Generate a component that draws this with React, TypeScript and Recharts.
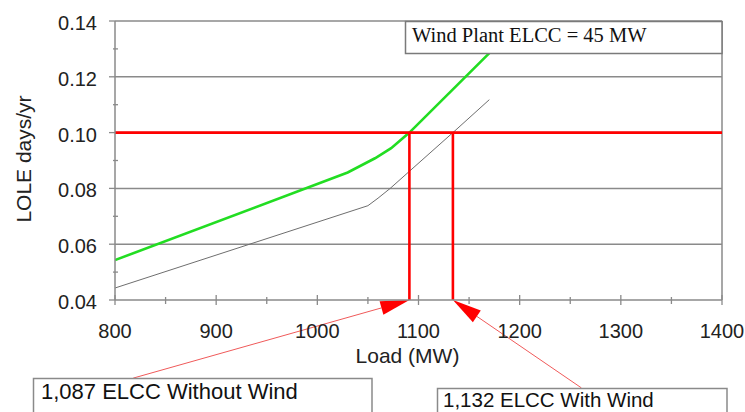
import React from 'react';
import { LineChart, Line, XAxis, YAxis, ReferenceLine } from 'recharts';

// ---- data ----
const LOAD_WITHOUT_WIND = [800, 1030, 1057, 1073, 1091, 1170];
const LOLE_WITHOUT_WIND = [0.0543, 0.0857, 0.0908, 0.0944, 0.1, 0.1285];
const LOAD_WITH_WIND = [800, 1050, 1060, 1072, 1134, 1170];
const LOLE_WITH_WIND = [0.0443, 0.0738, 0.0765, 0.08, 0.1, 0.1118];

const LOLE_TARGET = 0.1;
const ELCC_WITHOUT_WIND = 1091; // drawn position of the 1,087 marker
const ELCC_WITH_WIND = 1134; // drawn position of the 1,132 marker

const X_TICKS = [800, 850, 900, 950, 1000, 1050, 1100, 1150, 1200, 1250, 1300, 1350, 1400];
const X_LABEL_TICKS = [800, 900, 1000, 1100, 1200, 1300, 1400];
const Y_TICKS = [0.04, 0.05, 0.06, 0.07, 0.08, 0.09, 0.1, 0.11, 0.12, 0.13, 0.14];
const Y_LABEL_TICKS = [0.04, 0.06, 0.08, 0.1, 0.12, 0.14];
const Y_GRID = [0.06, 0.08, 0.1, 0.12, 0.14];

// annotation callout anchors (data coordinates: load, LOLE)
const CALLOUT_WITHOUT_FROM = [818, 0.012];
const CALLOUT_WITH_FROM = [1261, 0.0085];

const TITLE_BOX = 'Wind Plant ELCC = 45 MW';
const LABEL_WITHOUT = '1,087 ELCC Without Wind';
const LABEL_WITH = '1,132 ELCC With Wind';
const X_TITLE = 'Load (MW)';
const Y_TITLE = 'LOLE days/yr';

const withoutWind = LOAD_WITHOUT_WIND.map((x, i) => ({ x, y: LOLE_WITHOUT_WIND[i] }));
const withWind = LOAD_WITH_WIND.map((x, i) => ({ x, y: LOLE_WITH_WIND[i] }));

const SANS = '"Liberation Sans", Arial, sans-serif';
const SERIF = '"Liberation Serif", "Times New Roman", serif';
const GRID = '#8a8a8a';

const isIn = (arr: number[], v: number) => arr.some((a) => Math.abs(a - v) < 1e-6);

const XTick = (props: any) => {
  const { x, y, payload } = props;
  const major = isIn(X_LABEL_TICKS, payload.value);
  return (
    <g>
      <line x1={x} x2={x} y1={major ? y - 5 : y - 3} y2={major ? y + 5 : y + 4} stroke={GRID} strokeWidth={1.3} />
      {major && (
        <text x={x} y={y + 38} textAnchor="middle" fontFamily={SANS} fontSize={20} fill="#222">
          {payload.value}
        </text>
      )}
    </g>
  );
};

const YTick = (props: any) => {
  const { x, y, payload } = props;
  const major = isIn(Y_LABEL_TICKS, payload.value);
  return (
    <g>
      <line x1={major ? x - 6 : x - 2} x2={major ? x : x + 3} y1={y} y2={y} stroke={GRID} strokeWidth={1.3} />
      {major && (
        <text x={x - 18} y={y + 9} textAnchor="end" fontFamily={SANS} fontSize={20} fill="#222">
          {Number(payload.value).toFixed(2)}
        </text>
      )}
    </g>
  );
};

const makeArrow = (props: any) => {
  const { x1, y1, x2, y2 } = props;
  const dx = x2 - x1;
  const dy = y2 - y1;
  const len = Math.sqrt(dx * dx + dy * dy) || 1;
  const ux = dx / len;
  const uy = dy / len;
  const bx = x2 - ux * 29;
  const by = y2 - uy * 29;
  const px = -uy * 7;
  const py = ux * 7;
  return (
    <g>
      <line x1={x1} y1={y1} x2={bx} y2={by} stroke="#f05a5a" strokeWidth={1} />
      <polygon points={`${x2},${y2} ${bx + px},${by + py} ${bx - px},${by - py}`} fill="#ff0000" />
    </g>
  );
};

export default function App() {
  return (
    <div style={{ position: 'absolute', left: 0, top: 0, width: 745, height: 412, background: '#fff' }}>
      <LineChart width={745} height={412} margin={{ top: 21, right: 23, left: 0, bottom: 0 }}>
        <XAxis
          type="number"
          dataKey="x"
          domain={[800, 1400]}
          ticks={X_TICKS}
          interval={0}
          height={112}
          tickSize={0}
          tickMargin={0}
          tickLine={false}
          tick={<XTick />}
          axisLine={{ stroke: GRID, strokeWidth: 1.5 }}
          allowDataOverflow
        />
        <YAxis
          type="number"
          dataKey="y"
          domain={[0.04, 0.14]}
          ticks={Y_TICKS}
          interval={0}
          width={115}
          tickSize={0}
          tickMargin={0}
          tickLine={false}
          tick={<YTick />}
          axisLine={{ stroke: GRID, strokeWidth: 1.5 }}
          allowDataOverflow
        />
        {Y_GRID.map((v) => (
          <ReferenceLine key={v} y={v} stroke={GRID} strokeWidth={1.5} />
        ))}
        <ReferenceLine x={1400} stroke={GRID} strokeWidth={1.5} />
        <Line
          data={withWind}
          dataKey="y"
          type="linear"
          stroke="#6e6e6e"
          strokeWidth={1}
          dot={false}
          isAnimationActive={false}
        />
        <Line
          data={withoutWind}
          dataKey="y"
          type="linear"
          stroke="#22dd22"
          strokeWidth={2.6}
          dot={false}
          isAnimationActive={false}
        />
        <ReferenceLine y={LOLE_TARGET} stroke="#ff0000" strokeWidth={2.6} />
        <ReferenceLine
          segment={[
            { x: ELCC_WITHOUT_WIND, y: 0.04 },
            { x: ELCC_WITHOUT_WIND, y: LOLE_TARGET },
          ]}
          stroke="#ff0000"
          strokeWidth={2.6}
        />
        <ReferenceLine
          segment={[
            { x: ELCC_WITH_WIND, y: 0.04 },
            { x: ELCC_WITH_WIND, y: LOLE_TARGET },
          ]}
          stroke="#ff0000"
          strokeWidth={2.6}
        />
        <ReferenceLine
          segment={[
            { x: CALLOUT_WITHOUT_FROM[0], y: CALLOUT_WITHOUT_FROM[1] },
            { x: ELCC_WITHOUT_WIND, y: 0.04 },
          ]}
          ifOverflow="visible"
          shape={makeArrow}
        />
        <ReferenceLine
          segment={[
            { x: CALLOUT_WITH_FROM[0], y: CALLOUT_WITH_FROM[1] },
            { x: ELCC_WITH_WIND, y: 0.04 },
          ]}
          ifOverflow="visible"
          shape={makeArrow}
        />
      </LineChart>
      <svg width={745} height={412} style={{ position: 'absolute', left: 0, top: 0, pointerEvents: 'none' }}>
        <rect x={405.5} y={21.5} width={316.5} height={32} fill="#fff" stroke="#7a7a7a" strokeWidth={1.5} />
        <text x={412} y={41.7} fontFamily={SERIF} fontSize={20.5} fill="#111">
          {TITLE_BOX}
        </text>
        <rect x={33.5} y={378.5} width={338.5} height={50} fill="#fff" stroke="#8a8a8a" strokeWidth={1.5} />
        <text x={41} y={398.5} fontFamily={SANS} fontSize={22} fill="#111">
          {LABEL_WITHOUT}
        </text>
        <rect x={437.5} y={388.5} width={289.5} height={40} fill="#fff" stroke="#8a8a8a" strokeWidth={1.5} />
        <text x={443} y={406.5} fontFamily={SANS} fontSize={20.5} fill="#111">
          {LABEL_WITH}
        </text>
        <text x={407.5} y={363} textAnchor="middle" fontFamily={SANS} fontSize={21} fill="#222">
          {X_TITLE}
        </text>
        <text transform="translate(31,159) rotate(-90)" textAnchor="middle" fontFamily={SANS} fontSize={21} fill="#222">
          {Y_TITLE}
        </text>
      </svg>
    </div>
  );
}
